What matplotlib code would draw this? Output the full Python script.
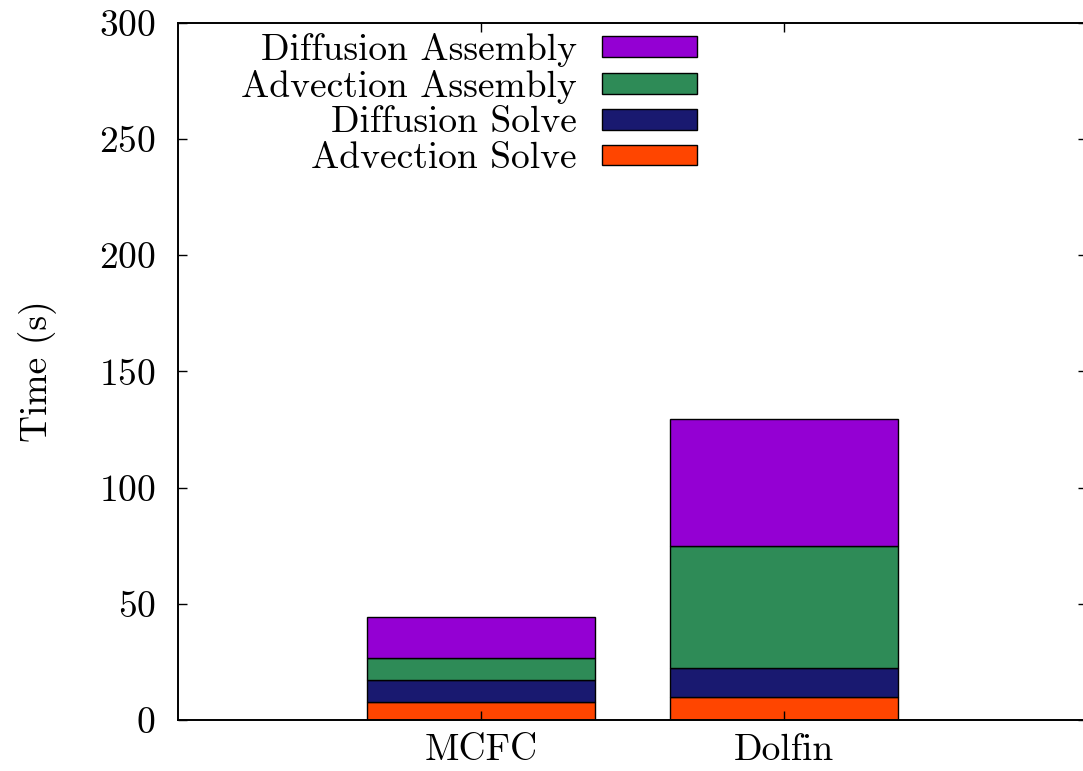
import matplotlib
matplotlib.use('Agg')
import matplotlib.pyplot as plt
import numpy as np

plt.rcParams['font.family'] = ['cmr10', 'DejaVu Serif']
plt.rcParams['mathtext.fontset'] = 'cm'
plt.rcParams['axes.formatter.use_mathtext'] = True

# Данные
codes = ['MCFC', 'Dolfin']
adv_solve = [7.6, 9.8]
diff_solve = [9.5, 12.5]
adv_asm = [9.7, 52.8]
diff_asm = [17.6, 54.6]

series = [
    ('Advection Solve', adv_solve, '#ff4500'),
    ('Diffusion Solve', diff_solve, '#191970'),
    ('Advection Assembly', adv_asm, '#2e8b57'),
    ('Diffusion Assembly', diff_asm, '#9400d3'),
]

fig = plt.figure(figsize=(10.83, 7.71), dpi=100)
ax = fig.add_axes([178 / 1083, 1 - 720 / 771, 909 / 1083, 697 / 771])

x = np.arange(len(codes))
bottom = np.zeros(len(codes))
handles = []
for name, vals, col in series:
    b = ax.bar(x, vals, 0.75, bottom=bottom, color=col,
               edgecolor='black', linewidth=1.0, label=name)
    handles.append(b)
    bottom += np.array(vals)

ax.set_xlim(-1, 2)
ax.set_ylim(0, 300)
ax.set_xticks(x)
ax.set_xticklabels(codes)
ax.set_yticks(np.arange(0, 301, 50))
ax.tick_params(direction='in', length=6.5, width=1, labelsize=27,
               top=True, right=True)
ax.tick_params(axis='y', pad=16)
ax.tick_params(axis='x', pad=10)
for s in ax.spines.values():
    s.set_linewidth(1.4)

ax.set_ylabel('Time (s)', fontsize=27, labelpad=30)

leg = ax.legend(handles[::-1], [s[0] for s in series][::-1],
                loc='upper right', bbox_to_anchor=(697 / 1083, 1 - 33 / 771),
                bbox_transform=fig.transFigure, frameon=False,
                markerfirst=False, fontsize=27, borderpad=0,
                borderaxespad=0, handlelength=2.53, handleheight=0.48,
                handletextpad=0.67, labelspacing=0.07)

fig.savefig('out.png', dpi=100)
